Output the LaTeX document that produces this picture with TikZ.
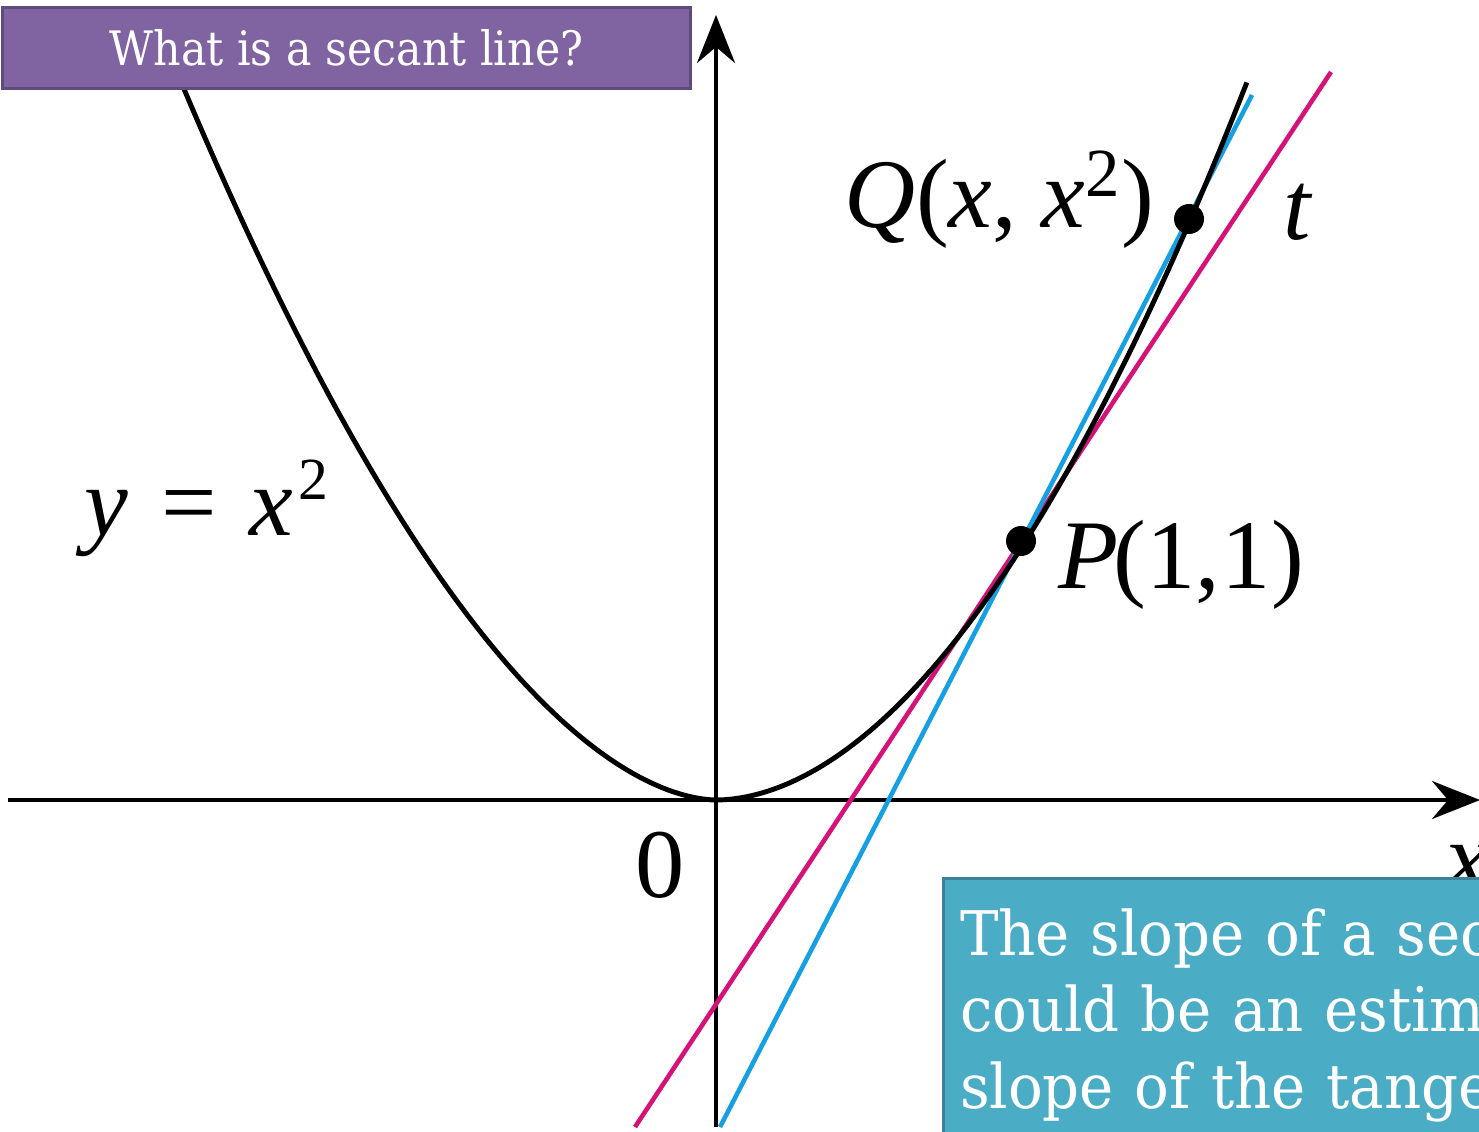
\documentclass[tikz,border=0pt]{standalone}
\usepackage{fontspec}
\setmainfont{Liberation Serif}
\newfontfamily\slabfont[FakeStretch=0.9]{DejaVu Serif}
\newfontfamily\noteslab[FakeStretch=0.94]{DejaVu Serif}
\usetikzlibrary{arrows.meta}
\definecolor{titlepurple}{HTML}{8064A2}
\definecolor{titleedge}{HTML}{5F4B80}
\definecolor{noteblue}{HTML}{4BACC6}
\definecolor{noteedge}{HTML}{3A8199}
\definecolor{tangentred}{RGB}{214,18,120}
\definecolor{secantblue}{RGB}{20,160,226}
\newcommand{\bigsq}{\kern1.5pt\raisebox{10pt}{\fontsize{17}{17}\selectfont 2}}

\begin{document}
\begin{tikzpicture}[axis/.style={line width=1.2pt, -{Stealth[length=4.8mm, width=3.8mm, inset=1.6mm]}},
        curve/.style={line width=1.4pt},
        line/.style={line width=1.3pt},
        dot/.style={circle, fill=black, minimum size=3mm, inner sep=0pt},
        lbl/.style={font=\fontsize{28}{30}\selectfont, inner sep=0pt},
        titlebox/.style={draw=titleedge, line width=0.3mm, fill=titlepurple, text=white, font=\slabfont\fontsize{13.5}{15}\selectfont},
        notebox/.style={draw=noteedge, line width=0.3mm, fill=noteblue, text=white, align=left, font=\noteslab\fontsize{17.5}{21.8}\selectfont}]
        \useasboundingbox (0,0) rectangle (14.79,11.31);
        \clip (0,0) rectangle (14.79,11.31);

        \coordinate (O)  at (7.16,3.31);
        \coordinate (xl) at (0.08,3.31);
        \coordinate (xr) at (14.80,3.31);
        \coordinate (yb) at (7.16,0.04);
        \coordinate (yt) at (7.16,11.16);
        \coordinate (t1) at (6.35,0.04);
        \coordinate (t2) at (13.31,10.59);
        \coordinate (s1) at (7.20,0.04);
        \coordinate (s2) at (12.52,10.36);

        \draw[axis] (xl)--(xr);
        \draw[axis] (yb)--(yt);
        \node[lbl, anchor=base] (zero) at (6.60,2.34) {0};
        \node[lbl, anchor=base west] (xlab) at (14.45,2.41) {\textit{x}};

        \draw[line, tangentred] (t1)--(t2);
        \draw[line, secantblue] (s1)--(s2);
        \draw[curve] plot[domain=-5.35:5.31, samples=150]
            ({7.16+\x}, {3.31+(\x<0)*0.369*pow(abs(\x)+0.0001,1.77)+(\x>=0)*0.306*pow(abs(\x)+0.0001,1.89)});

        \node[dot] (P) at (10.21,5.90) {};
        \node[dot] (Q) at (11.89,9.12) {};
        \node[lbl, anchor=base west] (plab) at (10.58,5.43) {\textit{P}\kern-1.5pt(1,\kern0.5pt1)};
        \node[lbl, anchor=base east] (qlab) at (11.55,9.03) {\textit{Q}(\textit{x}, \textit{x}\textsuperscript{2})};
        \node[lbl, anchor=base west] (tlab) at (12.83,8.91) {\textit{t}};
        \node[lbl, anchor=base west] (flab) at (0.84,5.96) {\textit{y}\,\,=\,\,\textit{x}\bigsq};

        \node[titlebox, minimum width=6.87cm, minimum height=0.81cm, anchor=north west] (title) at (0.015,11.25) {What is a secant line?};
        \node[notebox, text width=8cm, text depth=2.5cm, inner xsep=1.7mm, inner ysep=3mm, anchor=north west] (note) at (9.415,2.54)
            {The slope of a sec\\could be an estim\\slope of the tange};
\end{tikzpicture}
\end{document}
